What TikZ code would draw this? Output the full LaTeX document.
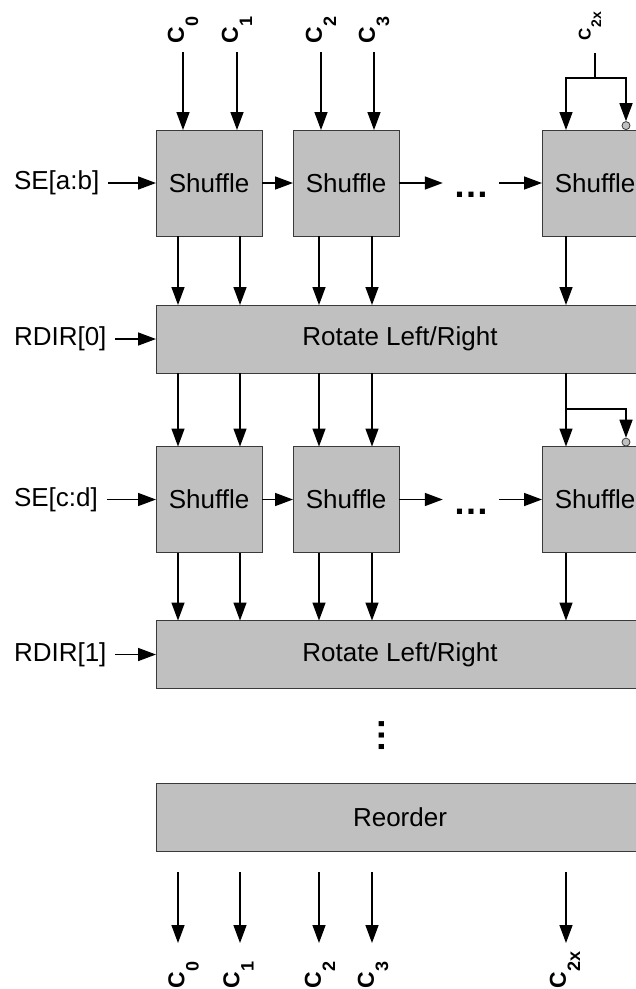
\documentclass[tikz,border=0pt]{standalone}
\usepackage{fontspec}
\setmainfont{Liberation Sans}
\usetikzlibrary{arrows.meta, positioning}

\definecolor{boxgray}{HTML}{C0C0C0}
\definecolor{edgegray}{HTML}{3A3A3A}
\newcommand{\csub}[2][18]{C\raisebox{-0.62em}{\fontsize{#1}{#1}\selectfont\bfseries #2}}

\begin{document}
\begin{tikzpicture}[
        x=1pt, y=-1pt,
        node distance=31pt,
        shuffle/.style={rectangle, draw=edgegray, fill=boxgray, line width=1pt, minimum width=106pt, minimum height=106pt, inner sep=0pt, outer sep=0pt, font=\fontsize{26}{26}\selectfont},
        wide/.style={shuffle, minimum width=488pt, minimum height=68pt},
        sig/.style={anchor=west, inner sep=0pt, outer sep=0pt, font=\fontsize{26}{26}\selectfont},
        clab/.style={rotate=90, anchor=west, inner sep=0pt, outer sep=0pt, font=\fontsize{23}{23}\selectfont\bfseries},
        dots/.style={inner ysep=0pt, inner xsep=10pt, font=\fontsize{36}{36}\selectfont\bfseries},
        inv/.style={circle, draw=edgegray, fill=boxgray, line width=0.8pt, minimum size=8pt, inner sep=0pt, anchor=south},
        arrow/.style={-{Triangle[length=18pt, width=13pt]}, line width=1.5pt},
        wire/.style={line width=1.5pt}
    ]

    \clip (0,0) rectangle (636,989);

    % Columns
    \coordinate (k0) at (178,0);
    \coordinate (k1) at (240,0);
    \coordinate (k2) at (319,0);
    \coordinate (k3) at (372,0);
    \coordinate (k4) at (566,0);
    \coordinate (kq) at (626,0);

    % Blocks
    \node[shuffle] (sh1) at (209,183) {Shuffle};
    \node[shuffle, right=of sh1] (sh2) {Shuffle};
    \node[dots] (dt1) at (471,195) {…};
    \node[shuffle] (sh3) at (595,183) {Shuffle};
    \node[wide] (rot1) at (400,339) {Rotate Left/Right};
    \node[shuffle] (sh4) at (209,499.5) {Shuffle};
    \node[shuffle, right=of sh4] (sh5) {Shuffle};
    \node[dots] (dt2) at (471,511.5) {…};
    \node[shuffle] (sh6) at (595,499.5) {Shuffle};
    \node[wide] (rot2) at (400,654.5) {Rotate Left/Right};
    \node[dots, rotate=90] (vd) at (382,735) {…};
    \node[wide] (reo) at (400,817) {Reorder};
    \node[inv] (q1) at (kq |- sh3.north) {};
    \node[inv] (q2) at (kq |- sh6.north) {};

    % Side inputs
    \node[sig] (se1) at (14,183) {SE[a:b]};
    \node[sig] (rd0) at (14,339) {RDIR[0]};
    \node[sig] (se2) at (14,499.5) {SE[c:d]};
    \node[sig] (rd1) at (14,654.5) {RDIR[1]};

    % Labels
    \node[clab] (t0) at (183,43) {\csub{0}};
    \node[clab] (t1) at (237,43) {\csub{1}};
    \node[clab] (t2) at (321,43) {\csub{2}};
    \node[clab] (t3) at (374,43) {\csub{3}};
    \node[clab, font=\fontsize{17}{17}\selectfont\bfseries] (t4) at (590,40) {\csub[14]{2x}};
    \node[clab] (b0) at (183.5,988) {\csub{0}};
    \node[clab] (b1) at (238.5,988) {\csub{1}};
    \node[clab] (b2) at (320,988) {\csub{2}};
    \node[clab] (b3) at (373,988) {\csub{3}};
    \node[clab] (b4) at (565,988) {\csub{2x}};
    \coordinate (f1) at (595,78);
    \coordinate (f2) at (566,409);

    % Inputs
    \draw[arrow, shorten <=9pt] (t0.west) -- (t0.west |- sh1.north);
    \draw[arrow, shorten <=9pt] (t1.west) -- (t1.west |- sh1.north);
    \draw[arrow, shorten <=9pt] (t2.west) -- (t2.west |- sh2.north);
    \draw[arrow, shorten <=9pt] (t3.west) -- (t3.west |- sh2.north);
    \draw[wire, shorten >=13pt] (f1) -- (f1 |- t4.west);
    \draw[arrow] (f1) -| (k4 |- sh3.north);
    \draw[arrow] (f1) -| (q1.north);

    \draw[arrow, shorten <=9pt] (se1) -- (sh1);
    \draw[arrow, shorten <=9pt] (rd0) -- (rot1.west |- rd0);
    \draw[arrow, shorten <=9pt] (se2) -- (sh4);
    \draw[arrow, shorten <=9pt] (rd1) -- (rot2.west |- rd1);

    % Shuffle chains
    \draw[arrow] (sh1) -- (sh2);
    \draw[arrow] (sh2.east) -- (sh2.east -| dt1.west);
    \draw[arrow] (sh3.west -| dt1.east) -- (sh3.west);
    \draw[arrow] (sh4) -- (sh5);
    \draw[arrow] (sh5.east) -- (sh5.east -| dt2.west);
    \draw[arrow] (sh6.west -| dt2.east) -- (sh6.west);

    % Stage links
    \foreach \k/\a in {k0/sh1, k1/sh1, k2/sh2, k3/sh2, k4/sh3}
        \draw[arrow] (\k |- \a.south) -- (\k |- rot1.north);
    \foreach \k/\b in {k0/sh4, k1/sh4, k2/sh5, k3/sh5, k4/sh6}
        \draw[arrow] (\k |- rot1.south) -- (\k |- \b.north);
    \draw[arrow] (f2) -| (q2.north);
    \foreach \k/\a in {k0/sh4, k1/sh4, k2/sh5, k3/sh5, k4/sh6}
        \draw[arrow] (\k |- \a.south) -- (\k |- rot2.north);

    % Outputs
    \foreach \k in {k0, k1, k2, k3, k4}
        \draw[arrow, shorten <=21pt] (\k |- reo.south) -- (\k |- 0,943);

\end{tikzpicture}
\end{document}
